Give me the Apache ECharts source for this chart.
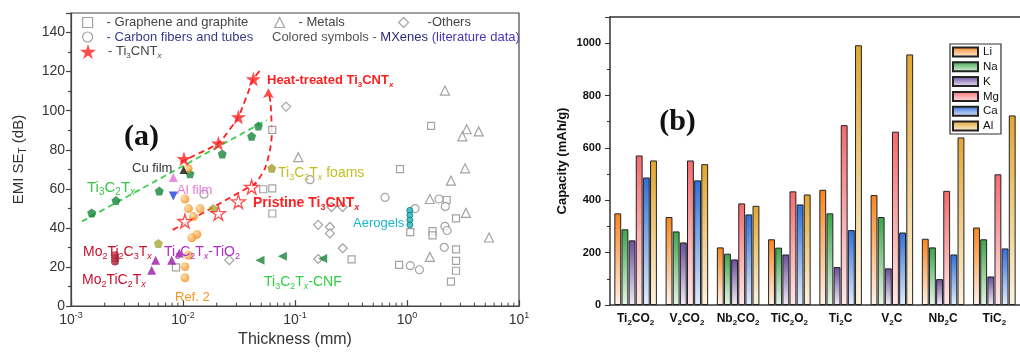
<!DOCTYPE html>
<html>
<head>
<meta charset="utf-8">
<script src="https://cdn.jsdelivr.net/npm/echarts@6.0.0/dist/echarts.min.js"></script>
<style>
  html, body { margin: 0; padding: 0; background: #fff; }
  #chart { width: 1020px; height: 353px; }
</style>
</head>
<body>
<div id="chart"></div>
<script>
const F = 'Liberation Sans'

// ---- panel (a): EMI SE vs thickness, points are [thickness (mm), SE (dB)]
const grapheneGraphite = [[0.0627, 90.2], [1.64, 92.2], [0.866, 70.1], [0.052, 59.8], [0.0627, 60.2], [0.0627, 47.4], [2.26, 54.3], [2.74, 44.9], [1.07, 37.9], [1.69, 38.4], [1.69, 36.2], [2.74, 29], [2.74, 23.1], [2.74, 18.1], [2.47, 12.5], [0.85, 21.1], [0.32, 23.9], [0.00866, 19.8]]
const carbonFibers = [[0.0154, 57.3], [0.136, 64.7], [0.637, 55.6], [1.93, 54.8], [2.2, 51], [2.18, 40.8], [2.28, 38.7], [2.15, 30.1], [1.07, 20.7], [1.29, 18.6], [1.18, 49.9]]
const metals = [[2.18, 110.3], [3.41, 90.5], [3.12, 86.9], [4.37, 89.4], [0.107, 76.2], [3.3, 70.5], [2.47, 64.2], [1.6, 54.8], [3.36, 47.7], [5.4, 35.1], [1.6, 25.2]]
const others = [[0.0832, 102.1], [0.212, 50.7], [0.266, 50.7], [0.161, 41.6], [0.205, 40.5], [0.205, 37.2], [0.267, 29.6], [0.161, 24.1], [0.0259, 23.5]]
const heatTreated = [[0.0102, 75.4], [0.0207, 83.3], [0.0312, 96.8], [0.0425, 116.2]]
const pristine = [[0.0104, 43.5], [0.0207, 47.5], [0.0312, 53.5], [0.041, 61]]
const ti3c2tx = [[0.00153, 47.7], [0.00252, 54], [0.00614, 58.9], [0.01155, 67.7], [0.0224, 77.9], [0.041, 86.9], [0.0471, 92.2]]
const ref2 = [[0.0111, 70.5], [0.0104, 54.8], [0.0112, 49.9], [0.0142, 49.9], [0.0124, 45.8], [0.0133, 36.7], [0.012, 35], [0.0112, 26], [0.0104, 20.2], [0.0104, 14.5]]
const moTiC = [[0.00247, 26], [0.00247, 24.3], [0.00247, 22.8]]
const tio2 = [[0.00525, 18.3], [0.0057, 23.5], [0.00793, 23.5], [0.00927, 27.2]]
const oliveHex = [[0.00603, 32.1], [0.0186, 49.9]]
const foams = [[0.062, 70.5]]
const cnf = [[0.0487, 23.5], [0.0771, 25.5], [0.1767, 24.4]]
const aerogels = [[1.06, 49], [1.06, 46.6], [1.06, 44.1], [1.06, 41.6]]
const alFilm = [[0.00819, 65.8]]
const blueFilm = [[0.00819, 56.4]]
const cuFilm = [[0.0101, 69.6]]
// dashed guide lines
const greenFit = [[0.00125, 43.3], [0.0559, 95.2]]
const heatFit = [[0.0095, 73.8], [0.0207, 83.3], [0.0312, 96.8], [0.0425, 116.2], [0.0487, 120.6]]
const pristineFit = [[0.0081, 39], [0.045, 63]]
const arrowPath = [[0.042, 61], [0.054, 70.6], [0.062, 88], [0.0605, 104], [0.0579, 110]]
const arrowTip = [[0.0579, 111.5]]
const logMinor = [0.002, 0.003, 0.004, 0.005, 0.006, 0.007, 0.008, 0.009,
  0.02, 0.03, 0.04, 0.05, 0.06, 0.07, 0.08, 0.09,
  0.2, 0.3, 0.4, 0.5, 0.6, 0.7, 0.8, 0.9,
  2, 3, 4, 5, 6, 7, 8, 9]

// ---- panel (b): capacity (mAh/g) per MXene and ion
const materials = ['Ti2CO2', 'V2CO2', 'Nb2CO2', 'TiC2O2', 'Ti2C', 'V2C', 'Nb2C', 'TiC2']
const ions = ['Li', 'Na', 'K', 'Mg', 'Ca', 'Al']
const liCap = [350, 336, 220, 251, 440, 420, 253, 296]
const naCap = [289, 281, 196, 219, 350, 336, 220, 251]
const kCap = [247, 239, 174, 193, 145, 140, 99, 109]
const mgCap = [571, 552, 388, 434, 687, 662, 436, 499]
const caCap = [487, 476, 346, 384, 286, 277, 193, 216]
const alCap = [552, 538, 379, 422, 992, 957, 640, 724]
const topTicks = ['', '', '', '', '', '', '', '', '', '']

const ionColors = [
  ['#f7851f', '#fff3e8'],
  ['#3da44a', '#e6f5e6'],
  ['#6a4c9c', '#f1ecf6'],
  ['#f46a6e', '#ffe8ea'],
  ['#2f6fdc', '#e3ecfa'],
  ['#e2a630', '#fcf3e0']
]
const capacities = [liCap, naCap, kCap, mgCap, caCap, alCap]

const RED = '#ff1f1f'
const GRAY = '#8c8c8c'
const STAR = 'path://M50,0 L61,35 L98,35 L68,57 L79,91 L50,70 L21,91 L32,57 L2,35 L39,35 Z'
const PENTA = 'path://M50,0 L98,35 L79,91 L21,91 L2,35 Z'
const LEFT_TRI = 'path://M0,50 L100,0 L100,100 Z'

function ball(c1, c2) {
  return { type: 'radial', x: 0.35, y: 0.35, r: 0.75, colorStops: [{ offset: 0, color: c1 }, { offset: 1, color: c2 }] }
}

function scatter(name, data, symbol, size, itemStyle, extra) {
  return Object.assign({
    type: 'scatter', name, data, symbol, symbolSize: size,
    xAxisIndex: 0, yAxisIndex: 0, itemStyle, z: 4
  }, extra || {})
}

function dashed(data, color, extra) {
  return Object.assign({
    type: 'line', data, xAxisIndex: 0, yAxisIndex: 0, symbol: 'none',
    lineStyle: { color, width: 1.8, type: [6, 4] }, z: 3, silent: true
  }, extra || {})
}

function subRich(size, weight, color) {
  const sub = Math.round(size * 0.64)
  return {
    s: { fontSize: sub, fontWeight: weight, fontFamily: F, color, fill: color, verticalAlign: 'bottom' },
    i: { fontSize: sub, fontWeight: weight, fontStyle: 'italic', fontFamily: F, color, fill: color, verticalAlign: 'bottom' },
    m: { fontSize: size, fontFamily: F, fill: '#2b2b7a', lineHeight: size + 4 },
    l: { fontSize: size, fontFamily: F, fill: '#4b36b8', lineHeight: size + 4 }
  }
}

// annotation labels of panel (a): [text, x, y, colour, size, weight]
const notes = [
  ['Heat-treated Ti{s|3}CNT{i|x}', 267, 80, RED, 13, 'bold'],
  ['Pristine Ti{s|3}CNT{i|x}', 253, 203, RED, 14, 'bold'],
  ['Ti{s|3}C{s|2}T{i|x} foams', 278, 173, '#c2bf1f', 14, 'normal'],
  ['Cu film', 132, 168, '#333', 13, 'normal'],
  ['Al film', 177, 190, '#e37ad6', 13, 'normal'],
  ['Ti{s|3}C{s|2}T{i|x}', 87, 188, '#3ec24e', 15, 'normal'],
  ['Mo{s|2}Ti{s|2}C{s|3}T{i|x}', 83, 252, '#c8102e', 14, 'normal'],
  ['Ti{s|3}C{s|2}T{i|x}-TiO{s|2}', 164, 252, '#b22ec4', 14, 'normal'],
  ['Mo{s|2}TiC{s|2}T{i|x}', 82, 280, '#c8102e', 14, 'normal'],
  ['Ref. 2', 175, 297, '#f7941d', 13, 'normal'],
  ['Ti{s|3}C{s|2}T{i|x}-CNF', 264, 282, '#2fcf45', 14, 'normal'],
  ['Aerogels', 353, 223, '#19b6c9', 13, 'normal'],
  ['Colored symbols - {m|MXenes} {l|(literature data)}', 272, 37, '#555', 13, 'normal']
]

const graphics = notes.map(([text, x, y, color, size, weight]) => ({
  type: 'text', x, y, z: 10,
  style: {
    text, fill: color, fontSize: size, fontWeight: weight, fontFamily: F,
    lineHeight: size + 4, align: 'left', verticalAlign: 'middle',
    rich: subRich(size, weight, color)
  }
}))
graphics.push(
  { type: 'text', x: 141.5, y: 137.5, z: 10, style: { text: '(a)', fill: '#111', fontSize: 30, fontWeight: 'bold', fontFamily: 'Liberation Serif', align: 'center', verticalAlign: 'middle' } },
  { type: 'text', x: 677.5, y: 122.5, z: 10, style: { text: '(b)', fill: '#111', fontSize: 30, fontWeight: 'bold', fontFamily: 'Liberation Serif', align: 'center', verticalAlign: 'middle' } }
)

const legendA = {
  orient: 'horizontal', padding: 0, itemWidth: 10, itemHeight: 10, selectedMode: false,
  formatter: '- {name}',
  itemStyle: { borderWidth: 1.2 },
  textStyle: { fontSize: 13, color: '#444', fontFamily: F, padding: [0, 0, 0, 9] }
}

const barSeries = ions.map((ion, i) => ({
  type: 'bar', name: ion, data: capacities[i], xAxisIndex: 1, yAxisIndex: 1,
  barGap: '4%', barCategoryGap: '17%',
  itemStyle: {
    color: new echarts.graphic.LinearGradient(0, 0, 0, 1, [
      { offset: 0, color: ionColors[i][0] },
      { offset: 1, color: ionColors[i][1] }
    ]),
    borderColor: '#222', borderWidth: 1
  }
}))

const axisGray = { color: '#444', width: 1.2 }

const option = {
  animation: false,
  backgroundColor: '#fff',
  textStyle: { fontFamily: F },
  graphic: graphics,
  legend: [
    Object.assign({}, legendA, { left: 82, top: 16, data: ['Graphene and graphite'] }),
    Object.assign({}, legendA, { left: 82, top: 30.5, data: ['Carbon fibers and tubes'], textStyle: Object.assign({}, legendA.textStyle, { color: '#3b3b86' }) }),
    Object.assign({}, legendA, { left: 274, top: 16, data: ['Metals'] }),
    Object.assign({}, legendA, { left: 398, top: 16, data: ['Others'], formatter: '-{name}', textStyle: Object.assign({}, legendA.textStyle, { padding: [0, 0, 0, 14] }) }),
    Object.assign({}, legendA, {
      left: 80, top: 43, itemWidth: 16, itemHeight: 16, data: ['Ti3CNTx'],
      formatter: () => '- Ti{s|3}CNT{i|x}',
      itemStyle: {},
      textStyle: { fontSize: 13, color: '#444', fontFamily: F, lineHeight: 17, padding: [0, 0, 0, 7], rich: subRich(13, 'normal', '#444') }
    }),
    {
      left: 950, top: 44, orient: 'vertical', padding: [2, 2, 2, 2], itemWidth: 25, itemHeight: 9, itemGap: 2.8,
      icon: 'rect', selectedMode: false, data: ions,
      borderColor: '#333', borderWidth: 1.2,
      textStyle: { fontSize: 11.5, color: '#111', fontFamily: F }
    }
  ],
  grid: [
    { left: 71, top: 13, width: 448, height: 303, show: true, borderColor: '#444', borderWidth: 1.2, backgroundColor: 'transparent' },
    { left: 610, top: 17, width: 418.4, height: 288 }
  ],
  xAxis: [
    {
      gridIndex: 0, type: 'log', logBase: 10, min: 0.001, max: 10,
      name: 'Thickness (mm)', nameLocation: 'middle', nameGap: 22,
      nameTextStyle: { fontSize: 16, color: '#333', fontFamily: F },
      axisLine: { lineStyle: axisGray },
      axisTick: { inside: true, length: 6, lineStyle: axisGray },
      splitLine: { show: false },
      axisLabel: {
        margin: 5, color: '#333',
        formatter: v => '{b|10}{p|' + Math.round(Math.log10(v)) + '}',
        rich: {
          b: { fontSize: 14, fontFamily: F, color: '#333', lineHeight: 18 },
          p: { fontSize: 9, fontFamily: F, color: '#333', verticalAlign: 'top' }
        }
      }
    },
    {
      gridIndex: 1, type: 'category', data: materials, position: 'bottom',
      axisLine: { lineStyle: { color: '#333', width: 1.5 } },
      axisTick: { alignWithLabel: true, length: 5, interval: 0, lineStyle: { color: '#333' } },
      axisLabel: {
        interval: 0, margin: 6,
        formatter: name => name.replace(/([A-Za-z.]+)|(\d+)/g, (m, a, d) => a ? '{n|' + a + '}' : '{s|' + d + '}'),
        rich: {
          n: { fontSize: 12, fontWeight: 'bold', fontFamily: F, color: '#111', lineHeight: 16 },
          s: { fontSize: 8, fontWeight: 'bold', fontFamily: F, color: '#111', verticalAlign: 'bottom' }
        }
      }
    },
    {
      gridIndex: 1, type: 'category', data: materials, position: 'bottom',
      axisLine: { show: false },
      axisTick: { length: 3, interval: 0, lineStyle: { color: '#333' } },
      axisLabel: { show: false }
    },
    {
      gridIndex: 1, type: 'category', data: topTicks, position: 'top',
      axisLine: { lineStyle: { color: '#333', width: 1.5 } },
      axisTick: { inside: true, length: 5, interval: 0, lineStyle: { color: '#333' } },
      axisLabel: { show: false }
    }
  ],
  yAxis: [
    {
      gridIndex: 0, type: 'value', min: 0, max: 150, interval: 20,
      name: 'EMI SE{s|T} (dB)', nameLocation: 'middle', nameGap: 43,
      nameTextStyle: {
        fontSize: 15, color: '#333', fontFamily: F, lineHeight: 18,
        rich: { s: { fontSize: 10, color: '#333', fontFamily: F, verticalAlign: 'bottom' } }
      },
      axisLine: { show: true, lineStyle: axisGray },
      axisTick: { show: true, length: 5, lineStyle: axisGray },
      minorTick: { show: true, splitNumber: 2, length: 3, lineStyle: axisGray },
      splitLine: { show: false },
      axisLabel: { margin: 6, fontSize: 14, color: '#333', showMaxLabel: false }
    },
    {
      gridIndex: 1, type: 'value', min: 0, max: 1100, interval: 200,
      name: 'Capacity (mAh/g)', nameLocation: 'middle', nameGap: 41,
      nameTextStyle: { fontSize: 13, fontWeight: 'bold', color: '#111', fontFamily: F },
      axisLine: { show: true, lineStyle: { color: '#333', width: 1.5 } },
      axisTick: { show: true, length: 5, lineStyle: { color: '#333' } },
      minorTick: { show: true, splitNumber: 2, length: 3, lineStyle: { color: '#333' } },
      splitLine: { show: false },
      axisLabel: { margin: 9, fontSize: 11, fontWeight: 'bold', color: '#111', showMaxLabel: false, formatter: v => String(v) }
    }
  ],
  series: [
    // minor ticks of the log axis
    {
      type: 'custom', xAxisIndex: 0, yAxisIndex: 0, silent: true, clip: false, z: 6,
      data: logMinor.map(v => [v, 0]),
      renderItem: (params, api) => {
        const p = api.coord([api.value(0), 0])
        return { type: 'line', shape: { x1: p[0], y1: p[1], x2: p[0], y2: p[1] - 3.5 }, style: { stroke: '#444', lineWidth: 1 } }
      }
    },
    scatter('Graphene and graphite', grapheneGraphite, 'rect', 7, { color: '#fff', borderColor: GRAY, borderWidth: 1.2 }),
    scatter('Carbon fibers and tubes', carbonFibers, 'circle', 8, { color: '#fff', borderColor: GRAY, borderWidth: 1.2 }),
    scatter('Metals', metals, 'triangle', 9, { color: '#fff', borderColor: GRAY, borderWidth: 1.2 }),
    scatter('Others', others, 'diamond', 9, { color: '#fff', borderColor: GRAY, borderWidth: 1.2 }),
    dashed(greenFit, '#3ccf4e'),
    dashed(heatFit, RED, { smooth: 0.15 }),
    dashed(pristineFit, RED),
    dashed(arrowPath, RED, { smooth: 0.3 }),
    scatter('arrow', arrowTip, 'arrow', [8, 10], { color: RED }),
    scatter('Ti3C2Tx', ti3c2tx, PENTA, 9, { color: '#17853a' }),
    scatter('Ref. 2', ref2, 'circle', 9, { color: ball('#ffd49a', '#f0870f') }),
    scatter('Mo', moTiC, 'circle', 8, { color: ball('#d04050', '#8c0d1f') }),
    scatter('TiO2', tio2, 'triangle', 9, { color: '#9a1aa6' }),
    scatter('olive', oliveHex, PENTA, 9, { color: '#a6a83a' }),
    scatter('foams', foams, PENTA, 9, { color: '#a49a2a' }),
    scatter('CNF', cnf, LEFT_TRI, 9, { color: '#17853a' }),
    scatter('Aerogels', aerogels, 'circle', 6, { color: '#1fb4bf', borderColor: '#117a82', borderWidth: 1 }),
    scatter('Al film', alFilm, 'triangle', 9, { color: '#e36fd6' }),
    scatter('blue', blueFilm, 'triangle', 9, { color: '#2040e0' }, { symbolRotate: 180 }),
    scatter('Cu film', cuFilm, 'triangle', 8, { color: '#111' }),
    scatter('Pristine', pristine, STAR, 14, { color: '#fff', borderColor: RED, borderWidth: 1.3 }),
    scatter('Ti3CNTx', heatTreated, STAR, 15, { color: RED })
  ].concat(barSeries)
}

const chart = echarts.init(document.getElementById('chart'))
chart.setOption(option)
</script>
</body>
</html>
